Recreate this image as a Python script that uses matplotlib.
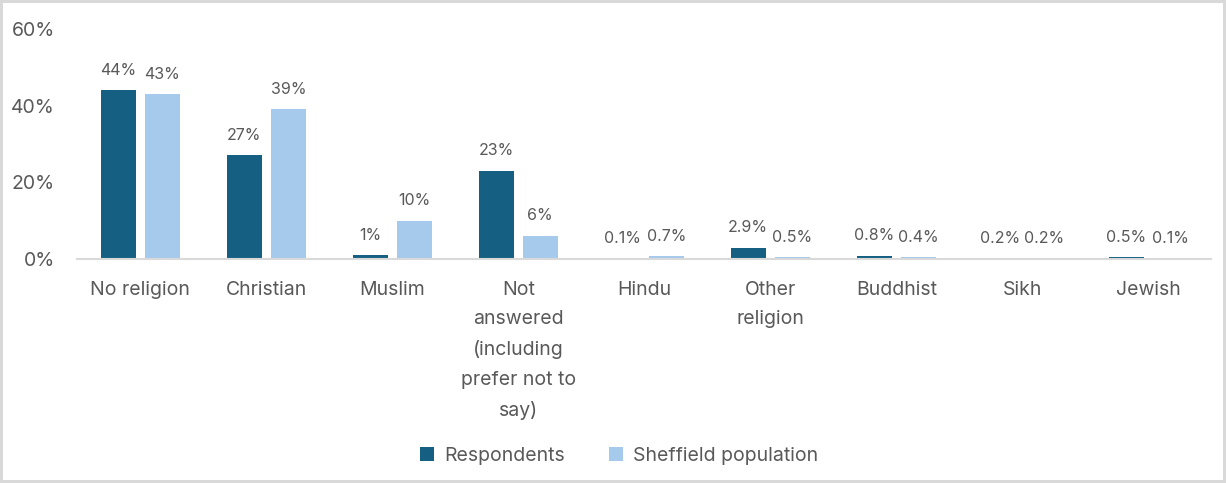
import numpy as np
import matplotlib.pyplot as plt

categories = ["No religion", "Christian", "Muslim",
              "Not\nanswered\n(including\nprefer not to\nsay)",
              "Hindu", "Other\nreligion", "Buddhist", "Sikh", "Jewish"]
respondents = [44, 27, 1, 23, 0.1, 2.9, 0.8, 0.2, 0.5]
sheffield = [43, 39, 10, 6, 0.7, 0.5, 0.4, 0.2, 0.1]
decimals = [0, 0, 0, 0, 1, 1, 1, 1, 1]
yticks = [0, 20, 40, 60]

dark = "#156082"
light = "#A6CAEC"
grey = "#595959"

plt.rcParams["font.family"] = ["Inter", "DejaVu Sans"]

fig = plt.figure(figsize=(12.26, 4.83), dpi=100)
fig.patch.set_edgecolor("#d9d9d9")
fig.patch.set_linewidth(3)
ax = fig.add_axes([0.063, 0.4638, 0.925, 0.4762])

x = np.arange(len(categories))
w = 0.28
b1 = ax.bar(x - 0.175, respondents, w, color=dark, label="Respondents")
b2 = ax.bar(x + 0.175, sheffield, w, color=light, label="Sheffield population")

for bars, vals in ((b1, respondents), (b2, sheffield)):
    for rect, v, d in zip(bars, vals, decimals):
        ax.annotate(f"{v:.{d}f}%", (rect.get_x() + rect.get_width() / 2, v),
                    xytext=(0, 9), textcoords="offset points",
                    ha="center", va="bottom", fontsize=11.5, color=grey)

ax.set_xlim(-0.5, len(categories) - 0.5)
ax.set_ylim(0, 60)
ax.set_yticks(yticks)
ax.set_yticklabels([f"{t}%" for t in yticks])
ax.set_xticks(x)
ax.set_xticklabels(categories, linespacing=1.8, va="top")
ax.tick_params(axis="both", length=0, labelsize=14, colors=grey)
ax.tick_params(axis="x", pad=16)
ax.tick_params(axis="y", pad=16)
for s in ("top", "right", "left"):
    ax.spines[s].set_visible(False)
ax.spines["bottom"].set_color("#d9d9d9")
ax.spines["bottom"].set_linewidth(1.5)

fig.legend(loc="center", bbox_to_anchor=(0.505, 0.056), ncol=2, frameon=False,
           fontsize=14, labelcolor=grey, handlelength=0.7, handleheight=0.7,
           handletextpad=0.5, columnspacing=2.3)

fig.savefig("out.png", dpi=100, edgecolor=fig.get_edgecolor())
